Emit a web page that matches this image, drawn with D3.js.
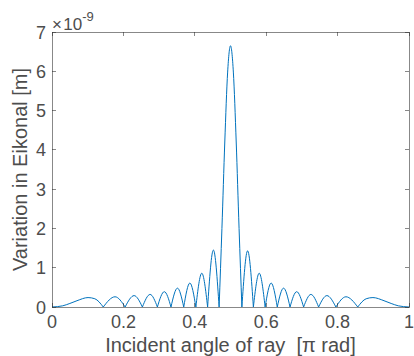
<!DOCTYPE html>
<html>
<head>
<meta charset="utf-8">
<script src="https://cdn.jsdelivr.net/npm/d3@7"></script>
<style>
  html, body { margin: 0; padding: 0; background: #fff; }
  svg { display: block; font-family: "Liberation Sans", Arial, sans-serif; }
  .tick-label { fill: #4d4d4d; font-size: 18px; }
  .ax-label { fill: #4d4d4d; font-size: 20px; }
</style>
</head>
<body>
<svg id="chart"></svg>
<script>
/* ------------ DATA (y in units of 1e-9 m) ------ */
// x = incident angle [pi rad], y = variation in eikonal; y = 0 marks each dip
const angle = [
  0, 0.03, 0.05, 0.07, 0.101, 0.12, 0.1436,
  0.1766, 0.2048,
  0.230, 0.2532,
  0.2748, 0.2952,
  0.3146, 0.3333,
  0.3514, 0.3690,
  0.3862, 0.4030,
  0.4196, 0.4359,
  0.4521, 0.4681,
  0.476, 0.484, 0.492, 0.500, 0.508, 0.516, 0.524, 0.5319,
  0.5479, 0.5641,
  0.5804, 0.5970,
  0.6138, 0.6310,
  0.6486, 0.6667,
  0.6854, 0.7048,
  0.7252, 0.7468,
  0.770, 0.7952,
  0.8234, 0.8564,
  0.880, 0.899, 0.930, 0.950, 0.970, 1
];
const eikonal = [
  0, 0.03, 0.09, 0.16, 0.24, 0.21, 0,
  0.26, 0,
  0.29, 0,
  0.32, 0,
  0.39, 0,
  0.48, 0,
  0.61, 0,
  0.86, 0,
  1.45, 0,
  2.0, 4.2, 5.98, 6.65, 5.98, 4.2, 2.0, 0,
  1.43, 0,
  0.86, 0,
  0.61, 0,
  0.48, 0,
  0.39, 0,
  0.32, 0,
  0.29, 0,
  0.26, 0,
  0.21, 0.24, 0.16, 0.09, 0.03, 0
];

const xTicks = [0, 0.2, 0.4, 0.6, 0.8, 1];
const yTicks = [0, 1, 2, 3, 4, 5, 6, 7];

/* ------------ LAYOUT ------------------------------------------------- */
const W = 414, H = 356;
const margin = { top: 32, right: 5, bottom: 49, left: 52 };
const iw = W - margin.left - margin.right;
const ih = H - margin.top - margin.bottom;
const axisColor = '#262626';
const lineColor = '#0072bd';
const tickLen = 4;

const svg = d3.select('#chart').attr('width', W).attr('height', H);
const g = svg.append('g').attr('transform', `translate(${margin.left},${margin.top})`);

const x = d3.scaleLinear().domain([0, 1]).range([0, iw]);
const y = d3.scaleLinear().domain([0, 7]).range([ih, 0]);

/* ------------ CURVE -------------------------------------------------- */
// split the series into lobes at the zero points so each dip is a cusp
const pts = angle.map((a, i) => [a, eikonal[i]]);
const lobes = [];
let cur = [pts[0]];
for (let i = 1; i < pts.length; i++) {
  cur.push(pts[i]);
  if (pts[i][1] === 0 && i < pts.length - 1) {
    lobes.push(cur);
    cur = [pts[i]];
  }
}
lobes.push(cur);

const line = d3.line()
  .x(d => x(d[0]))
  .y(d => y(d[1]))
  .curve(d3.curveMonotoneX);

g.append('path')
  .attr('d', lobes.map(l => line(l)).join(''))
  .attr('fill', 'none')
  .attr('stroke', lineColor)
  .attr('stroke-width', 1)
  .attr('stroke-linejoin', 'round');

/* ------------ AXES BOX + TICKS --------------------------------------- */
const frame = g.append('g')
  .attr('stroke', axisColor)
  .attr('stroke-opacity', 0.55)
  .attr('shape-rendering', 'crispEdges');

frame.append('rect')
  .attr('x', 0).attr('y', 0)
  .attr('width', iw).attr('height', ih)
  .attr('fill', 'none');

xTicks.forEach(t => {
  frame.append('line').attr('x1', x(t)).attr('x2', x(t)).attr('y1', ih).attr('y2', ih - tickLen);
  frame.append('line').attr('x1', x(t)).attr('x2', x(t)).attr('y1', 0).attr('y2', tickLen);
});
yTicks.forEach(t => {
  frame.append('line').attr('x1', 0).attr('x2', tickLen).attr('y1', y(t)).attr('y2', y(t));
  frame.append('line').attr('x1', iw).attr('x2', iw - tickLen).attr('y1', y(t)).attr('y2', y(t));
});

/* ------------ TICK LABELS -------------------------------------------- */
g.selectAll('text.xt')
  .data(xTicks)
  .join('text')
  .attr('class', 'tick-label xt')
  .attr('x', d => x(d))
  .attr('y', ih + 21)
  .attr('text-anchor', 'middle')
  .text(d => d3.format('~g')(d));

g.selectAll('text.yt')
  .data(yTicks)
  .join('text')
  .attr('class', 'tick-label yt')
  .attr('x', -6)
  .attr('y', d => y(d) + 6.5)
  .attr('text-anchor', 'end')
  .text(d => d);

// exponent
const ex = g.append('text')
  .attr('class', 'tick-label')
  .attr('font-size', 17)
  .attr('x', 0)
  .attr('y', -2);
ex.append('tspan').attr('font-size', 17).text('\u00d7\u200a10');
ex.append('tspan').attr('dy', -9).attr('font-size', 13).text('-9');

/* ------------ AXIS LABELS -------------------------------------------- */
svg.append('text')
  .attr('class', 'ax-label')
  .attr('x', margin.left + iw / 2)
  .attr('y', H - 4)
  .attr('text-anchor', 'middle')
  .text('Incident angle of ray \u00a0[\u03c0 rad]');

svg.append('text')
  .attr('class', 'ax-label')
  .attr('transform', `translate(27,${margin.top + ih / 2}) rotate(-90)`)
  .attr('text-anchor', 'middle')
  .text('Variation in Eikonal [m]');
</script>
</body>
</html>
